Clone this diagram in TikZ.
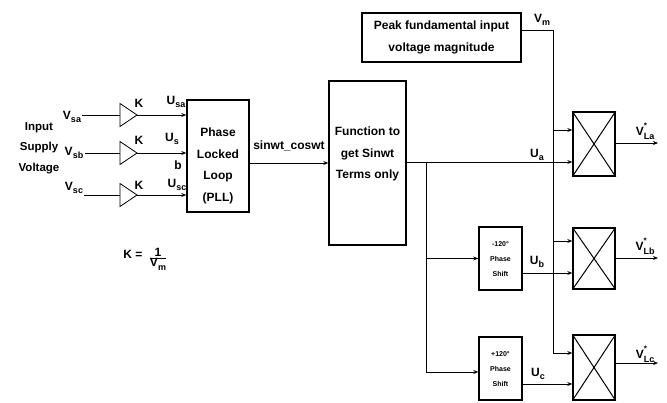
\documentclass[tikz,border=0pt]{standalone}
\usepackage{fontspec}
\setmainfont{Liberation Sans}
\usetikzlibrary{arrows.meta}
\newcommand{\mysub}[1]{\raisebox{-0.5ex}{\fontsize{9}{10}\selectfont #1}}
\begin{document}
\begin{tikzpicture}[x=1pt,y=-1pt, line width=1pt,
  box/.style={draw, line width=1.4pt, inner sep=0pt},
  txt/.style={inner sep=0pt, align=center, font=\bfseries\fontsize{12}{21.5}\selectfont},
  small/.style={inner sep=0pt, align=center, font=\bfseries\fontsize{7}{15}\selectfont},
  lbl/.style={inner sep=0pt, font=\bfseries\fontsize{12}{13}\selectfont},
  arr/.style={-{Stealth[length=5pt,width=4pt]}},
  gain/.style={line width=0.8pt}]
\useasboundingbox (0,0) rectangle (667,402);

% blocks
\node[box, minimum width=159pt, minimum height=49pt] (peak) at (441.5,37.5) {};
\node[txt, font=\bfseries\fontsize{12}{22}\selectfont] (peakt) at (441.5,37) {Peak fundamental input\\voltage magnitude};
\node[box, minimum width=62pt, minimum height=112pt] (pll) at (218,156) {};
\node[txt] (pllt) at (218,166) {Phase\\Locked\\Loop\\(PLL)};
\node[box, minimum width=77pt, minimum height=164pt] (fn) at (367.5,163) {};
\node[txt] (fnt) at (367.5,154) {Function to\\get Sinwt\\Terms only};
\node[box, minimum width=43pt, minimum height=63pt] (psb) at (500.5,258.5) {};
\node[small] (psbt) at (500.5,259) {-120°\\Phase\\Shift};
\node[box, minimum width=43pt, minimum height=63pt] (psc) at (500.5,368.5) {};
\node[small] (psct) at (500.5,369) {+120°\\Phase\\Shift};
\node[box, minimum width=42pt, minimum height=64pt] (ma) at (594,144) {};
\node[box, minimum width=42pt, minimum height=61pt] (mb) at (594,258.5) {};
\node[box, minimum width=42pt, minimum height=65pt] (mc) at (594,367.5) {};
\foreach \m in {ma,mb,mc}{
  \draw (\m.north west) -- (\m.south east) (\m.north east) -- (\m.south west);
}

% gain triangles
\coordinate (ta) at (137,115);
\coordinate (tb) at (137,153);
\coordinate (tc) at (137,195);
\foreach \t in {ta,tb,tc}{
  \draw[gain] (\t) -- ++(-17,-11.5) coordinate (\t top) -- ++(0,23) -- cycle;
  \coordinate (\t in) at ([shift={(-17,0)}]\t);
}
\coordinate (vsa) at (82,115);
\coordinate (vsb) at (85,153);
\coordinate (vsc) at (84,195);
\draw (vsa) -- (tain);
\draw (vsb) -- (tbin);
\draw (vsc) -- (tcin);
\draw[arr] (ta) -- (pll.west |- ta);
\draw[arr] (tb) -- (pll.west |- tb);
\draw[arr] (tc) -- (pll.west |- tc);

% PLL -> function
\draw[arr] (pll.east |- fn.west) -- (fn.west);

% multiplier inputs
\coordinate (mai1) at ([yshift=14pt]ma.west);
\coordinate (mai2) at ([yshift=-18pt]ma.west);
\coordinate (mbi1) at ([yshift=17.5pt]mb.west);
\coordinate (mbi2) at ([yshift=-14.5pt]mb.west);
\coordinate (mci1) at ([yshift=14.5pt]mc.west);
\coordinate (mci2) at ([yshift=-16.5pt]mc.west);

\coordinate (vmtop) at (553,30);
\draw[arr] ([yshift=7.5pt]peak.east) -- (vmtop) |- (mci1);
\draw[arr] (vmtop |- mai1) -- (mai1);
\draw[arr] (vmtop |- mbi1) -- (mbi1);

\draw[arr] (fn.east |- mai2) -- (mai2);
\coordinate (br) at (426,162);
\draw[arr] (br) |- (psb.west);
\draw[arr] (br) |- ([yshift=-3.5pt]psc.west);
\draw[arr] (psb.east |- mbi2) -- (mbi2);
\draw[arr] (psc.east |- mci2) -- (mci2);

% outputs
\coordinate (oa) at (658,143);
\coordinate (ob) at (658,258);
\coordinate (oc) at (658,363);
\draw[arr] (ma.east |- oa) -- (oa);
\draw[arr] (mb.east |- ob) -- (ob);
\draw[arr] (mc.east |- oc) -- (oc);

% labels
\node[lbl, align=center, font=\bfseries\fontsize{11.5}{20.5}\selectfont] (insup) at (39,148) {Input\\Supply\\Voltage};
\node[lbl] (lvsa) at (72,117) {V\mysub{sa}};
\node[lbl] (lvsb) at (74,153) {V\mysub{sb}};
\node[lbl] (lvsc) at (74,188) {V\mysub{sc}};
\node[lbl] (k1) at (139,103) {K};
\node[lbl] (k2) at (139,140) {K};
\node[lbl] (k3) at (139,185) {K};
\node[lbl] (lusa) at (176,102) {U\mysub{sa}};
\node[lbl] (lus) at (172,139) {U\mysub{s}};
\node[lbl] (lub) at (178,165) {b};
\node[lbl] (lusc) at (177,185) {U\mysub{sc}};
\node[lbl] (sc) at (289,146) {sinwt\_coswt};
\node[lbl] (lvm) at (542,20) {V\mysub{m}};
\node[lbl] (lua) at (537,155) {U\mysub{a}};
\node[lbl] (lub2) at (537,262) {U\mysub{b}};
\node[lbl] (luc) at (538,374) {U\mysub{c}};
\node[lbl] (lva) at (645,131) {V\rlap{\raisebox{1.2ex}{\fontsize{8}{8}\selectfont *}}\mysub{La}};
\node[lbl] (lvb) at (645,246) {V\rlap{\raisebox{1.2ex}{\fontsize{8}{8}\selectfont *}}\mysub{Lb}};
\node[lbl] (lvc) at (645,354) {V\rlap{\raisebox{1.2ex}{\fontsize{8}{8}\selectfont *}}\mysub{Lc}};
\node[lbl] (kform) at (133,254) {K =};
\node[lbl] (kfrac) at (158,259) {$\frac{\mbox{1}}{\mbox{V\mysub{m}}}$};
\end{tikzpicture}
\end{document}
